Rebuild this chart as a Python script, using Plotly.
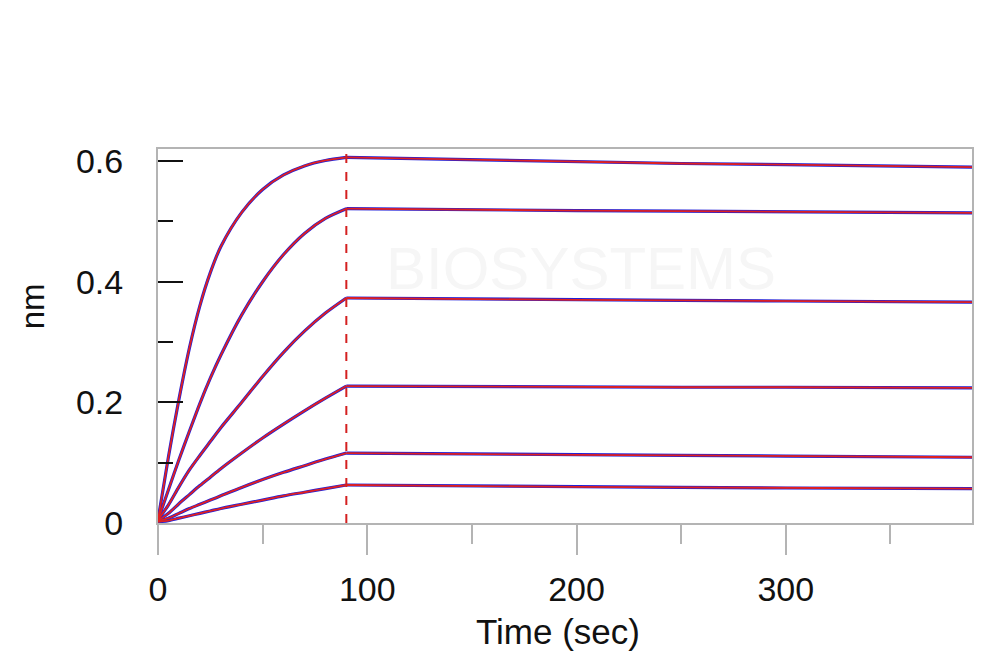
import plotly.graph_objects as go

# association phase (0-90 s), one list per concentration
assoc_time = [0, 5, 10, 15, 20, 25, 30, 40, 50, 60, 70, 80, 90]
assoc_1 = [0.005, 0.11, 0.205, 0.29, 0.36, 0.415, 0.458, 0.515, 0.553, 0.577, 0.592, 0.601, 0.606]
assoc_2 = [0.005, 0.055, 0.105, 0.152, 0.198, 0.24, 0.278, 0.345, 0.40, 0.445, 0.48, 0.505, 0.521]
assoc_3 = [0.005, 0.03, 0.06, 0.088, 0.112, 0.135, 0.158, 0.20, 0.243, 0.283, 0.318, 0.348, 0.373]
assoc_4 = [0.004, 0.016, 0.032, 0.047, 0.062, 0.076, 0.09, 0.116, 0.141, 0.164, 0.186, 0.207, 0.227]
assoc_5 = [0.003, 0.008, 0.016, 0.024, 0.031, 0.038, 0.045, 0.059, 0.072, 0.084, 0.095, 0.106, 0.116]
assoc_6 = [0.002, 0.004, 0.008, 0.012, 0.016, 0.02, 0.024, 0.031, 0.038, 0.045, 0.051, 0.057, 0.063]

# dissociation phase (90-389 s)
dissoc_time = [90, 150, 200, 250, 300, 350, 389]
dissoc_1 = [0.606, 0.602, 0.599, 0.596, 0.594, 0.592, 0.590]
dissoc_2 = [0.521, 0.519, 0.518, 0.517, 0.516, 0.515, 0.514]
dissoc_3 = [0.373, 0.371, 0.370, 0.369, 0.368, 0.367, 0.366]
dissoc_4 = [0.227, 0.226, 0.226, 0.225, 0.225, 0.224, 0.224]
dissoc_5 = [0.116, 0.114, 0.113, 0.112, 0.111, 0.110, 0.109]
dissoc_6 = [0.063, 0.061, 0.060, 0.059, 0.058, 0.057, 0.057]

ASSOC_END = 90

assoc = [assoc_1, assoc_2, assoc_3, assoc_4, assoc_5, assoc_6]
dissoc = [dissoc_1, dissoc_2, dissoc_3, dissoc_4, dissoc_5, dissoc_6]

RAW = "#2020d8"
FIT = "#e02020"
FONT = "Liberation Sans, Arial, sans-serif"

fig = go.Figure()

# raw data underneath (blue), fitted curves on top (red)
for color, width in [(RAW, 3.2), (FIT, 1.8)]:
    for a, d in zip(assoc, dissoc):
        fig.add_trace(go.Scatter(x=assoc_time, y=a, mode="lines",
                                 line=dict(color=color, width=width, shape="spline", smoothing=0.8),
                                 hoverinfo="skip"))
        fig.add_trace(go.Scatter(x=dissoc_time, y=d, mode="lines",
                                 line=dict(color=color, width=width),
                                 hoverinfo="skip"))

# end of association
fig.add_shape(type="line", x0=ASSOC_END, x1=ASSOC_END, xref="x",
              y0=0, y1=1, yref="paper",
              line=dict(color="#d42020", width=2, dash="dash"))

# faint watermark
fig.add_annotation(text="BIOSYSTEMS", x=0.52, y=0.775, xref="paper", yref="paper",
                   showarrow=False, font=dict(family=FONT, size=60, color="#f6f6f6"))

fig.add_annotation(text="nm", textangle=-90, x=-0.1546, y=0.58, xref="paper", yref="paper",
                   xanchor="center", yanchor="middle",
                   showarrow=False, font=dict(family=FONT, size=33, color="#111111"))
fig.add_annotation(text="Time (sec)", x=0.492, y=-0.289, xref="paper", yref="paper",
                   xanchor="center", yanchor="middle",
                   showarrow=False, font=dict(family=FONT, size=35, color="#111111"))

fig.update_layout(
    width=1000, height=670,
    margin=dict(l=150, r=36, t=141, b=155),
    paper_bgcolor="white", plot_bgcolor="white",
    showlegend=False,
    font=dict(family=FONT, size=34, color="#111111"),
)

fig.update_xaxes(
    range=[0, 389], tickvals=[0, 100, 200, 300], ticktext=["0", "100", "200", "300"],
    ticks="outside", ticklen=30, tickwidth=1.5, tickcolor="#b4b4b4", ticklabelstandoff=5,
    minor=dict(dtick=50, tick0=0, ticks="outside", ticklen=19, tickwidth=1.5, tickcolor="#b4b4b4"),
    showline=True, linecolor="#b4b4b4", linewidth=2, mirror=True,
    showgrid=False, zeroline=False,
)
fig.update_yaxes(
    range=[0, 0.62], tickvals=[0, 0.2, 0.4, 0.6], ticktext=["0", "0.2", "0.4", "0.6"],
    ticks="inside", ticklen=25, tickwidth=2, tickcolor="#111111", ticklabelstandoff=26,
    minor=dict(dtick=0.1, tick0=0, ticks="inside", ticklen=15, tickwidth=2, tickcolor="#111111"),
    showline=True, linecolor="#b4b4b4", linewidth=2, mirror=True,
    showgrid=False, zeroline=False,
)

fig.write_html("out.html")
